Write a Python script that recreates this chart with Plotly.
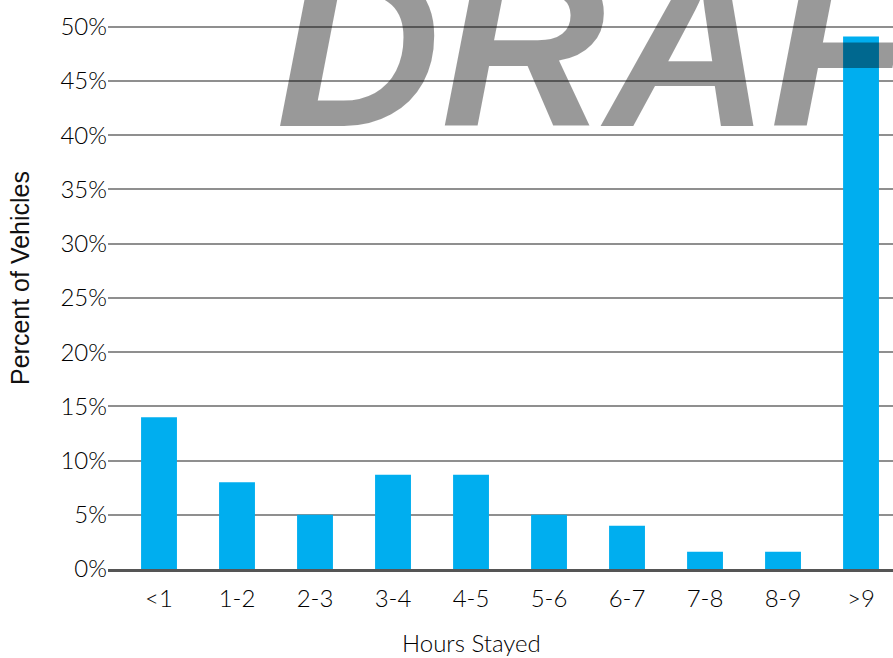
import plotly.graph_objects as go

# Length-of-stay distribution
hours_stayed = ["<1", "1-2", "2-3", "3-4", "4-5", "5-6", "6-7", "7-8", "8-9", ">9"]
percent_vehicles = [14.0, 8.0, 5.0, 8.7, 8.7, 5.0, 4.0, 1.6, 1.6, 49.1]
y_ticks = [0, 5, 10, 15, 20, 25, 30, 35, 40, 45, 50]
y_tick_text = [f"{v}%" for v in y_ticks]

W, H = 893, 658
M_L, M_R, M_T, M_B = 108, 0, 16, 89
PLOT_W = W - M_L - M_R
PLOT_H = H - M_T - M_B

label_font = dict(family="Lato, 'Open Sans', sans-serif", size=24, color="#000000", weight=300)

fig = go.Figure(
    go.Bar(
        x=list(range(len(hours_stayed))),
        y=percent_vehicles,
        width=0.46,
        marker=dict(color="#00AEEF", line=dict(width=0)),
        hoverinfo="skip",
    )
)

fig.update_layout(
    width=W,
    height=H,
    margin=dict(l=M_L, r=M_R, t=M_T, b=M_B, pad=0),
    paper_bgcolor="white",
    plot_bgcolor="white",
    showlegend=False,
    xaxis=dict(
        range=[-0.654, 9.41],
        tickmode="array",
        tickvals=list(range(len(hours_stayed))),
        ticktext=hours_stayed,
        tickfont=label_font,
        showgrid=False,
        zeroline=False,
        showline=True,
        linecolor="#555555",
        linewidth=3,
        ticks="",
        ticklabelstandoff=6,
        layer="above traces",
    ),
    yaxis=dict(
        range=[0, 51],
        tickmode="array",
        tickvals=y_ticks,
        ticktext=y_tick_text,
        tickfont=label_font,
        showgrid=True,
        gridcolor="#8f8f8f",
        gridwidth=1.5,
        zeroline=False,
        showline=False,
        ticks="",
        ticklabelstandoff=0,
    ),
)

# Axis titles
fig.add_annotation(
    text="Hours Stayed",
    xref="paper", yref="paper",
    x=(471 - M_L) / PLOT_W, y=-(642 - (M_T + PLOT_H)) / PLOT_H,
    xanchor="center", yanchor="middle",
    showarrow=False,
    font=label_font,
)
fig.add_annotation(
    text="Percent of Vehicles",
    xref="paper", yref="paper",
    x=-(M_L - 20) / PLOT_W, y=1 - (278 - M_T) / PLOT_H,
    xanchor="center", yanchor="middle",
    textangle=-90,
    showarrow=False,
    font=dict(family="'Liberation Sans', Arial, sans-serif", size=25, color="#111111"),
)

# Watermark over the plot
fig.add_annotation(
    text="<b><i>DRAFT</i></b>",
    xref="paper", yref="paper",
    x=(274 - M_L) / PLOT_W, y=1 - (176 - M_T) / PLOT_H,
    xanchor="left", yanchor="bottom",
    showarrow=False,
    font=dict(family="'Liberation Sans', Arial, sans-serif", size=228, color="rgba(0,0,0,0.4)"),
)

fig.write_html("out.html")
